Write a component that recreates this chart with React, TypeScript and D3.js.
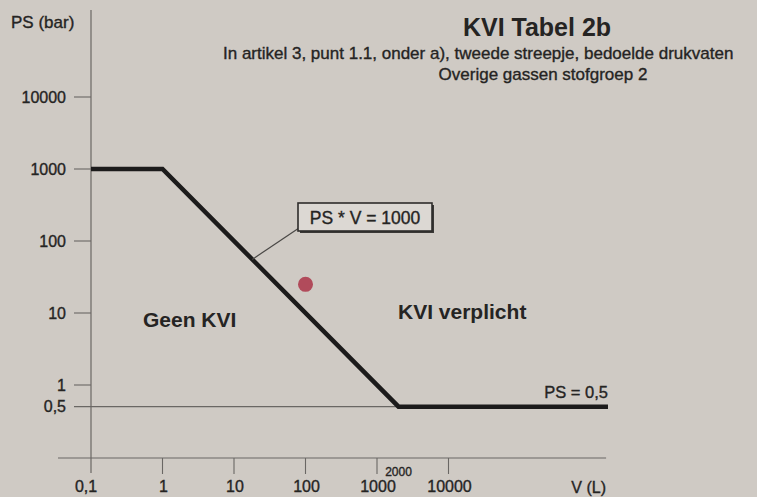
import React from "react";
import * as d3 from "d3";

const W = 757;
const H = 497;

// Axis ticks
const xTicks = [0.1, 1, 10, 100, 1000, 10000];
const xTickLabels = ["0,1", "1", "10", "100", "1000", "10000"];
const yTicks = [10000, 1000, 100, 10, 1, 0.5];
const yTickLabels = ["10000", "1000", "100", "10", "1", "0,5"];

// Boundary line (PS * V = 1000, capped at 1000 bar and 0.5 bar)
const boundaryV = [0.1, 1, 2000, 1.7e6];
const boundaryPS = [1000, 1000, 0.5, 0.5];

// Marked point
const pointV = [100];
const pointPS = [25];

// Annotation anchor on the line
const anchorV = 18;

const BG = "#cfcac4";
const INK = "#252423";
const AXIS = "#6a6764";
const FONT = "Liberation Sans, Arial, Helvetica, sans-serif";

export default function App() {
  const x = d3.scaleLog().domain([0.1, 10000]).range([91, 448.5]);
  const y = d3.scaleLog().domain([0.1, 10000]).range([457, 97]);

  const pts: [number, number][] = boundaryV.map((v, i) => [x(v), y(boundaryPS[i])]);
  const line = d3.line<[number, number]>().x((d) => d[0]).y((d) => d[1]);

  const xAxisY = 458;
  const xEnd = x(1.6e6);
  const anchorX = x(anchorV);
  const anchorY = y(1000 / anchorV);

  const heavy = { stroke: INK, strokeWidth: 0.35 } as const;

  return (
    <svg
      width={W}
      height={H}
      style={{ position: "absolute", left: 0, top: 0, display: "block", fontFamily: FONT }}
    >
      <rect x={0} y={0} width={W} height={H} fill={BG} />

      {/* Y axis */}
      <line x1={x(0.1)} x2={x(0.1)} y1={10} y2={473} stroke={AXIS} strokeWidth={1.2} />
      {/* X axis */}
      <line x1={58} x2={xEnd} y1={xAxisY} y2={xAxisY} stroke={AXIS} strokeWidth={1.2} />

      {/* Y ticks */}
      {yTicks.map((t, i) => (
        <g key={"yt" + i}>
          <line
            x1={74}
            x2={t === 0.5 ? x(boundaryV[3]) : x(0.1)}
            y1={y(t)}
            y2={y(t)}
            stroke={AXIS}
            strokeWidth={1.1}
          />
          <text
            x={66}
            y={y(t)}
            dy="0.36em"
            textAnchor="end"
            fontSize={16}
            fill={INK}
            {...heavy}
          >
            {yTickLabels[i]}
          </text>
        </g>
      ))}

      {/* X ticks */}
      {xTicks.map((t, i) => (
        <g key={"xt" + i}>
          {t !== 0.1 && (
            <line x1={x(t)} x2={x(t)} y1={xAxisY} y2={474} stroke={AXIS} strokeWidth={1.1} />
          )}
          <text
            x={t === 0.1 ? x(t) - 5 : x(t) + 1}
            y={492}
            textAnchor="middle"
            fontSize={16}
            fill={INK}
            {...heavy}
          >
            {xTickLabels[i]}
          </text>
        </g>
      ))}
      <text x={x(2000)} y={476} textAnchor="middle" fontSize={12} fill={INK} {...heavy}>
        2000
      </text>
      <text x={606} y={493} textAnchor="end" fontSize={16} fill={INK} {...heavy}>
        V (L)
      </text>
      <text x={11} y={28} fontSize={17} fill={INK} {...heavy}>
        PS (bar)
      </text>

      {/* Boundary line */}
      <path
        d={line(pts) || ""}
        fill="none"
        stroke="#1c1b1b"
        strokeWidth={4.5}
        strokeLinejoin="miter"
      />

      {/* Leader and box */}
      <line x1={anchorX} y1={anchorY} x2={299} y2={228} stroke="#4a4846" strokeWidth={1.2} />
      <rect x={300} y={205} width={134} height={28} fill="#3a3836" />
      <rect x={298} y={203} width={134} height={28} fill="#dcd8d3" stroke="#2e2c2b" strokeWidth={1.6} />
      <text x={365} y={223.5} textAnchor="middle" fontSize={17.5} fill={INK} {...heavy}>
        PS * V = 1000
      </text>

      {/* Point */}
      {pointV.map((v, i) => (
        <circle key={"p" + i} cx={x(v)} cy={y(pointPS[i])} r={7.5} fill="#b14b5b" />
      ))}

      {/* Region labels */}
      <text x={143} y={327} fontSize={21} fontWeight="bold" fill={INK}>
        Geen KVI
      </text>
      <text x={398} y={319} fontSize={21} fontWeight="bold" fill={INK}>
        KVI verplicht
      </text>
      <text x={608} y={398} textAnchor="end" fontSize={16.5} fill={INK} {...heavy}>
        PS = 0,5
      </text>

      {/* Titles */}
      <text x={537} y={36} textAnchor="middle" fontSize={25} fontWeight="bold" fill={INK}>
        KVI Tabel 2b
      </text>
      <text x={223} y={59} fontSize={17} fill={INK} {...heavy}>
        In artikel 3, punt 1.1, onder a), tweede streepje, bedoelde drukvaten
      </text>
      <text x={543} y={80} textAnchor="middle" fontSize={17} fill={INK} {...heavy}>
        Overige gassen stofgroep 2
      </text>
    </svg>
  );
}
